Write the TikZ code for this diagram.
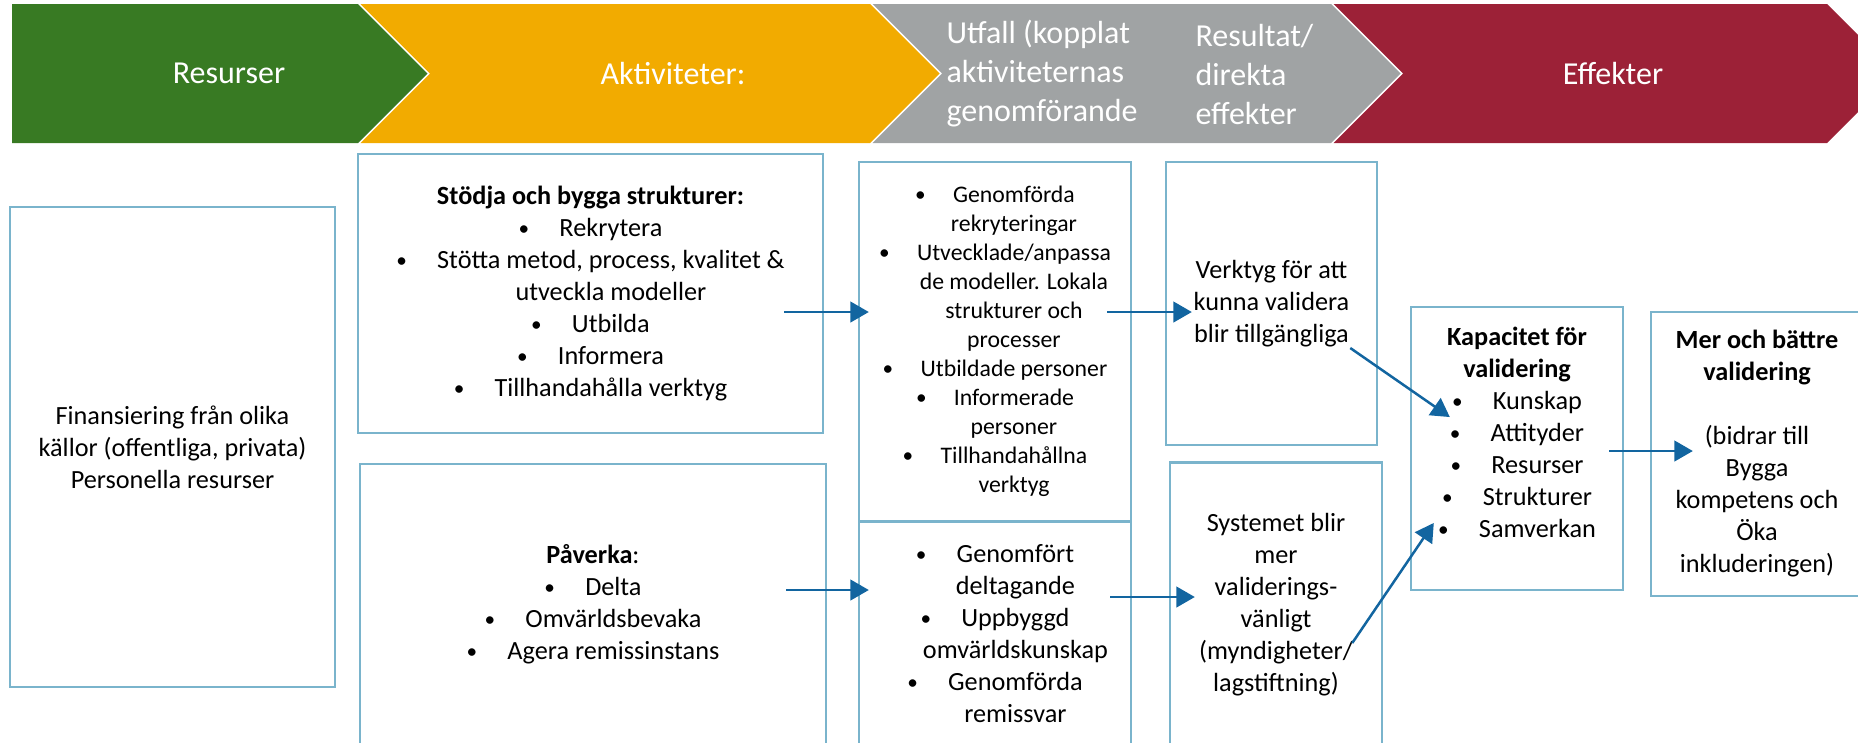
\documentclass[tikz,border=0pt]{standalone}
\usepackage{fontspec}
\setmainfont{Carlito}
\usetikzlibrary{calc}
\usetikzlibrary{arrows}

\definecolor{resgreen}{RGB}{56,122,35}
\definecolor{actorange}{RGB}{242,171,0}
\definecolor{outgray}{RGB}{160,163,164}
\definecolor{effred}{RGB}{156,33,55}
\definecolor{boxblue}{RGB}{122,180,204}
\definecolor{arrowblue}{RGB}{18,101,160}

\newcommand{\bul}{\raisebox{0.5pt}{\fontsize{8.5}{8.5}\selectfont\textbullet}\hspace{1.15em}}
\newcommand{\cont}{\hphantom{\bul}}

\begin{document}
\begin{tikzpicture}[x=0.4pt,y=-0.4pt]
  \tikzset{myarrow/.style={->, >=triangle 60, draw=arrowblue, fill=arrowblue, line width=1pt}};
  \tikzset{mybox/.style={rectangle, draw=boxblue, line width=1pt, align=center, font=\fontsize{10.5}{12.8}\selectfont}};
  \tikzset{myhead/.style={text=white, inner sep=0pt, font=\fontsize{12.8}{15.6}\selectfont}};

  \useasboundingbox (0,0) rectangle (1858,742);
  \clip (0,0) rectangle (1858,742);

  % chevrons on top
  \fill[resgreen] (12,4) -- (358,4) -- (427.5,73.5) -- (358,143) -- (12,143) -- cycle;
  \foreach \xl/\xr/\col in {360.5/870/actorange, 872.5/1331/outgray, 1333.5/1827/effred}
    \fill[\col] (\xl,4) -- (\xr,4) -- (\xr+69.5,73.5) -- (\xr,143) -- (\xl,143) -- (\xl+69.5,73.5) -- cycle;

  \node[myhead] (resurser) at (229,73.5) {Resurser};
  \node[myhead] (aktiviteter) at (673,73.5) {Aktiviteter:};
  \node[myhead, align=left, anchor=west] (utfall) at (946,74) {Utfall (kopplat\\aktiviteternas\\genomförande};
  \node[myhead, align=left, anchor=west] (resultat) at (1195,74) {Resultat/\\direkta\\effekter};
  \node[myhead] (effekter) at (1613,73.5) {Effekter};

  % boxes
  \node[mybox, minimum width=130pt, minimum height=192pt] (fin) at (172.5,447)
    {Finansiering från olika\\källor (offentliga, privata)\\Personella resurser};
  \node[mybox, minimum width=186pt, minimum height=111.6pt] (stodja) at (590.5,293.5)
    {\textbf{Stödja och bygga strukturer:}\\\bul Rekrytera\\\bul Stötta metod, process, kvalitet \&\\\cont utveckla modeller\\\bul Utbilda\\\bul Informera\\\bul Tillhandahålla verktyg};
  \node[mybox, minimum width=186.4pt, minimum height=112.4pt] (paverka) at (593,604.5)
    {\textbf{Påverka}:\\\bul Delta\\\bul Omvärldsbevaka\\\bul Agera remissinstans};
  \node[mybox, minimum width=108.8pt, minimum height=143.8pt, font=\fontsize{9.5}{11.6}\selectfont] (utfallA) at (995,341.75)
    {\bul Genomförda\\\cont rekryteringar\\\bul Utvecklade/anpassa\\\cont de modeller. Lokala\\\cont strukturer och\\\cont processer\\\bul Utbildade personer\\\bul Informerade\\\cont personer\\\bul Tillhandahållna\\\cont verktyg};
  \node[mybox, minimum width=108.8pt, minimum height=89.8pt] (utfallB) at (995,633.75)
    {\bul Genomfört\\\cont deltagande\\\bul Uppbyggd\\\cont omvärldskunskap\\\bul Genomförda\\\cont remissvar};
  \node[mybox, minimum width=84.4pt, minimum height=113.2pt] (verktyg) at (1271.5,303.5)
    {Verktyg för att\\kunna validera\\blir tillgängliga};
  \node[mybox, minimum width=84.8pt, minimum height=114pt] (systemet) at (1276,605)
    {Systemet blir\\mer\\validerings-\\vänligt\\(myndigheter/\\lagstiftning)};
  \node[mybox, minimum width=84.8pt, minimum height=113.2pt] (kapacitet) at (1517,448.5)
    {\textbf{Kapacitet för}\\\textbf{validering}\\\bul Kunskap\\\bul Attityder\\\bul Resurser\\\bul Strukturer\\\bul Samverkan\\\mbox{}};
  \node[mybox, minimum width=84.8pt, minimum height=113.6pt] (mer) at (1757,454)
    {\textbf{Mer och bättre}\\\textbf{validering}\\\mbox{}\\(bidrar till\\Bygga\\kompetens och\\Öka\\inkluderingen)};

  % arrows
  \coordinate (A1) at ($(stodja.east)+(-40,18.5)$);
  \coordinate (A2) at ($(utfallA.west)+(11,-29.75)$);
  \draw[myarrow] (A1) -- (A2);
  \coordinate (B1) at ($(paverka.east)+(-41,-14.5)$);
  \coordinate (B2) at ($(utfallB.west)+(11,-43.75)$);
  \draw[myarrow] (B1) -- (B2);
  \coordinate (C1) at ($(utfallA.east)+(-25,-29.75)$);
  \coordinate (C2) at ($(verktyg.west)+(27,8.5)$);
  \draw[myarrow] (C1) -- (C2);
  \coordinate (D1) at ($(utfallB.east)+(-22,-36.75)$);
  \coordinate (D2) at ($(systemet.west)+(26,-8)$);
  \draw[myarrow] (D1) -- (D2);
  \coordinate (E1) at ($(verktyg.east)+(-28,44.5)$);
  \coordinate (E2) at ($(kapacitet.west)+(40,-31.5)$);
  \draw[myarrow] (E1) -- (E2);
  \coordinate (F1) at ($(systemet.east)+(-31,38)$);
  \coordinate (F2) at ($(kapacitet.west)+(24,74.5)$);
  \draw[myarrow] (F1) -- (F2);
  \coordinate (G1) at ($(kapacitet.east)+(-15,2.5)$);
  \coordinate (G2) at ($(mer.west)+(43,-3)$);
  \draw[myarrow] (G1) -- (G2);

\end{tikzpicture}
\end{document}
